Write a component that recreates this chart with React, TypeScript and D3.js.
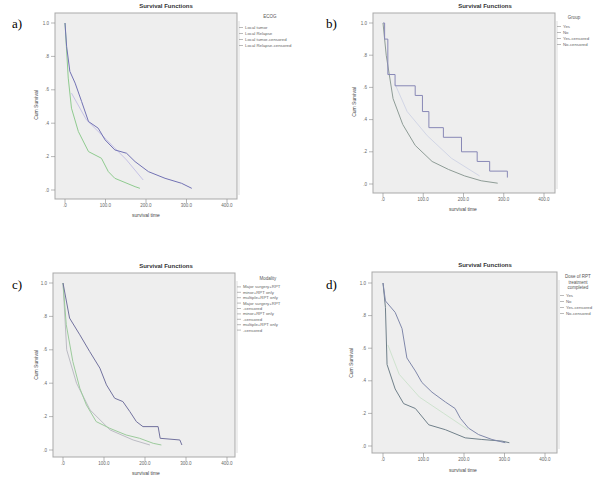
import React from 'react';
import * as d3 from 'd3';

// survival curves: [time, cumulative survival]
const aGroup1 = [[0, 1], [4, 0.86], [12, 0.71], [25, 0.64], [41, 0.53], [58, 0.41], [82, 0.37], [99, 0.3], [123, 0.24], [152, 0.22], [173, 0.17], [206, 0.11], [247, 0.07], [288, 0.04], [313, 0.01]];
const aGroup2 = [[0, 1], [8, 0.67], [16, 0.49], [33, 0.35], [58, 0.23], [90, 0.19], [107, 0.11], [123, 0.07], [173, 0.02], [185, 0.01]];
const aCensored = [[16, 0.58], [53, 0.42], [103, 0.3], [152, 0.18], [193, 0.06]];

const bGroup1 = [[0, 1], [4, 0.9], [12, 0.68], [30, 0.61], [80, 0.55], [98, 0.45], [114, 0.35], [150, 0.29], [195, 0.2], [234, 0.14], [265, 0.08], [309, 0.04]];
const bGroup2 = [[0, 1], [8, 0.8], [25, 0.53], [49, 0.37], [80, 0.24], [122, 0.14], [163, 0.09], [203, 0.05], [244, 0.02], [285, 0.005]];
const bCensored = [[30, 0.62], [60, 0.45], [110, 0.3], [170, 0.16], [240, 0.05]];

const cGroup1 = [[0, 1], [16, 0.79], [41, 0.69], [65, 0.59], [90, 0.49], [106, 0.39], [126, 0.31], [146, 0.29], [163, 0.23], [179, 0.17], [195, 0.14], [232, 0.14], [237, 0.07], [285, 0.06], [290, 0.03]];
const cGroup2 = [[0, 1], [8, 0.75], [24, 0.53], [41, 0.37], [57, 0.27], [81, 0.17], [114, 0.13], [154, 0.09], [187, 0.07], [220, 0.04], [240, 0.03]];
const cGroup3 = [[0, 1], [9, 0.6], [33, 0.4], [66, 0.24], [115, 0.12], [171, 0.06], [212, 0.03]];

const dGroup1 = [[0, 1], [6, 0.89], [30, 0.82], [47, 0.72], [59, 0.54], [80, 0.46], [96, 0.39], [121, 0.33], [154, 0.27], [178, 0.23], [191, 0.17], [211, 0.11], [236, 0.07], [269, 0.04], [302, 0.02]];
const dGroup2 = [[0, 1], [6, 0.85], [10, 0.5], [30, 0.35], [51, 0.26], [80, 0.23], [113, 0.13], [154, 0.1], [203, 0.05], [244, 0.04], [294, 0.03], [312, 0.02]];
const dCensored = [[12, 0.62], [40, 0.44], [90, 0.3], [150, 0.2], [210, 0.1]];

const yTicks = [0, 0.2, 0.4, 0.6, 0.8, 1];
const xTicks = [0, 100, 200, 300, 400];

const legendA = ['ECOG', 'Local tumor', 'Local Relapse', 'Local tumor-censored', 'Local Relapse-censored'];
const legendB = ['Group', 'Yes', 'No', 'Yes-censored', 'No-censored'];
const legendC = ['Modality', 'Major surgery+RPT', 'minor+RPT only', 'multiple+RPT only', 'Major surgery+RPT', '-censored', 'minor+RPT only', '-censored', 'multiple+RPT only', '-censored'];
const legendD = ['Dose of RPT', 'treatment', 'completed', 'Yes', 'No', 'Yes-censored', 'No-censored'];

const sans = 'Liberation Sans, Arial, sans-serif';

function Panel(props) {
  const { f, xr, yr, label, labelPos, title, xLab, yLab, series, legend } = props;
  const x = d3.scaleLinear().domain([0, 400]).range(xr);
  const y = d3.scaleLinear().domain([0, 1]).range(yr);
  const head = legend.head || 1;

  return (
    <g>
      <text x={labelPos[0]} y={labelPos[1]} fontFamily="Liberation Serif, serif" fontSize={13}>{label}</text>
      <text x={title[0]} y={title[1]} textAnchor="middle" fontFamily={sans} fontSize={6} fontWeight="bold" fill="#333">Survival Functions</text>
      <rect x={f[0]} y={f[2]} width={f[1] - f[0]} height={f[3] - f[2]} fill="#eeeeee" stroke="#a9a9a9" strokeWidth={1} />
      {yTicks.map((t) => (
        <g key={'y' + t}>
          <line x1={f[0] - 4} x2={f[0]} y1={y(t)} y2={y(t)} stroke="#888" strokeWidth={0.6} />
          <text x={f[0] - 6} y={y(t) + 1.5} textAnchor="end" fontFamily={sans} fontSize={4.5} fill="#666">{t === 0 ? '.0' : t === 1 ? '1.0' : d3.format('.1f')(t).replace('0.', '.')}</text>
        </g>
      ))}
      {xTicks.map((t) => (
        <g key={'x' + t}>
          <line x1={x(t)} x2={x(t)} y1={f[3]} y2={f[3] + 4} stroke="#888" strokeWidth={0.6} />
          <text x={x(t)} y={f[3] + 8} textAnchor="middle" fontFamily={sans} fontSize={4.5} fill="#666">{t === 0 ? '.0' : t + '.0'}</text>
        </g>
      ))}
      <text x={xLab[0]} y={xLab[1]} textAnchor="middle" fontFamily={sans} fontSize={5} fill="#444">survival time</text>
      <text transform={`translate(${yLab[0]},${yLab[1]}) rotate(-90)`} textAnchor="middle" fontFamily={sans} fontSize={5} fill="#444">Cum Survival</text>
      {series.map((s, i) => {
        const line = d3.line().x((d) => x(d[0])).y((d) => y(d[1])).curve(s.step ? d3.curveStepAfter : d3.curveLinear);
        return <path key={i} d={line(s.data)} fill="none" stroke={s.color} strokeWidth={s.w || 1} />;
      })}
      <line x1={f[1] + 2} x2={f[1] + 2} y1={f[2] + 8} y2={f[3] - 4} stroke="#bbb" strokeWidth={0.5} />
      {legend.items.slice(0, head).map((t, i) => (
        <text key={'h' + i} x={legend.hx} y={legend.y + i * 5.5} textAnchor="middle" fontFamily={sans} fontSize={4.5} fill="#555">{t}</text>
      ))}
      {legend.items.slice(head).map((t, i) => {
        const yy = legend.y + 5.5 * (head - 1) + legend.gap * (i + 1) + legend.off;
        return (
          <g key={i}>
            <line x1={legend.x - 6} x2={legend.x - 2} y1={yy - 1.5} y2={yy - 1.5} stroke="#777" strokeWidth={0.5} />
            <text x={legend.x} y={yy} fontFamily={sans} fontSize={4.3} fill="#666">{t}</text>
          </g>
        );
      })}
    </g>
  );
}

export default function App() {
  return (
    <svg width={600} height={477} style={{ display: 'block', position: 'absolute', left: 0, top: 0 }}>
      <rect width={600} height={477} fill="#fff" />
      <Panel f={[55, 237, 13, 199]} xr={[65, 227]} yr={[190, 23]} label="a)" labelPos={[12, 28]} title={[166, 8]}
        xLab={[146, 217]} yLab={[38, 105]}
        legend={{ x: 245, hx: 270, y: 18, gap: 6, off: 5, items: legendA }}
        series={[
          { data: aCensored, color: '#c6c2e6' },
          { data: aGroup2, color: '#8fcb8f' },
          { data: aGroup1, color: '#7272b4' },
        ]} />
      <Panel f={[373, 555, 13, 193]} xr={[383, 544]} yr={[184, 23]} label="b)" labelPos={[326, 28]} title={[485, 8]}
        xLab={[463, 211]} yLab={[356, 102]}
        legend={{ x: 563, hx: 574, y: 19, gap: 6, off: 3, items: legendB }}
        series={[
          { data: bCensored, color: '#d2d6e6' },
          { data: bGroup2, color: '#8e9c96' },
          { data: bGroup1, color: '#8888b6', step: true },
        ]} />
      <Panel f={[53, 235, 273, 457]} xr={[63, 227]} yr={[450, 283]} label="c)" labelPos={[12, 289]} title={[166, 268]}
        xLab={[146, 475]} yLab={[38, 365]}
        legend={{ x: 243, hx: 268, y: 280, gap: 5.4, off: 3, items: legendC }}
        series={[
          { data: cGroup3, color: '#bcbcc4' },
          { data: cGroup2, color: '#9ccb9c' },
          { data: cGroup1, color: '#72729e' },
        ]} />
      <Panel f={[372, 557, 272, 453]} xr={[383, 545]} yr={[446, 283]} label="d)" labelPos={[326, 289]} title={[485, 267]}
        xLab={[463, 472]} yLab={[353, 363]}
        legend={{ x: 566, hx: 578, y: 278, gap: 6, off: 2, items: legendD, head: 3 }}
        series={[
          { data: dCensored, color: '#cfe3cf' },
          { data: dGroup2, color: '#70808a' },
          { data: dGroup1, color: '#8088aa' },
        ]} />
    </svg>
  );
}
